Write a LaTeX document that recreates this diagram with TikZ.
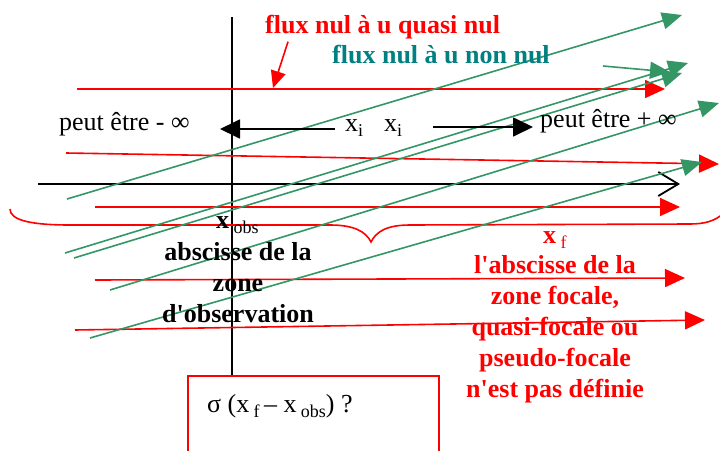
\documentclass[tikz,border=0pt]{standalone}
\usepackage{fontspec}
\setmainfont{Liberation Serif}
\usepackage{xcolor}
\usepackage{tikz}
\usetikzlibrary{arrows.meta}
\definecolor{vertrayon}{RGB}{51,150,100}
\definecolor{bleuvert}{RGB}{0,128,128}
\newcommand{\bas}[1]{\raisebox{-5pt}{\fontsize{18}{18}\selectfont #1}}

\begin{document}
\begin{tikzpicture}[x=1pt,y=-1pt,
	axe/.style={line width=1.8pt},
	rouge/.style={red,line width=1.6pt,-{Triangle[length=20pt,width=18pt]}},
	vert/.style={vertrayon,line width=1.6pt,-{Triangle[length=20pt,width=17pt]}},
	fleche/.style={line width=1.8pt,-{Triangle[length=20pt,width=19pt]}},
	txt/.style={inner sep=0pt,anchor=base west,font=\fontsize{26}{31}\selectfont},
	gras/.style={inner sep=0pt,anchor=north,align=center,font=\fontsize{26}{31}\selectfont\bfseries},
	]
	\useasboundingbox (0,0) rectangle (720,450);
	\clip (0,0) rectangle (720,450);
	
	% cadre du bas
	\node[draw=red,line width=1.5pt,minimum width=251pt,minimum height=95pt,
		anchor=north west,inner sep=0pt] (cadre) at (187,375) {};
	\node[txt] (sigma) at (207,412) {σ (x\,\bas{f}\,– x\,\bas{obs}) ?};
	
	% axes
	\coordinate (Ah) at (232,17);
	\coordinate (Ag) at (38,184);
	\coordinate (Ad) at (680,184);
	\draw[axe] (Ah)--(Ah |- cadre.north);
	\draw[axe,-{Straight Barb[length=20pt,width=24pt]}] (Ag)--(Ad);
	
	% accolade
	\draw[red,line width=1.6pt] (10,209) .. controls (10,220) and (30,225) .. (70,225)
	-- (330,225) .. controls (355,225) and (366,232) .. (371,242)
	.. controls (376,232) and (386,225) .. (410,225)
	-- (690,224) .. controls (705,224) and (715,221) .. (724,213);
	
	% rayons a flux quasi nul
	\foreach \n/\p/\q in {1/{77,89}/{665,89}, 2/{66,153}/{719,164}, 3/{95,207}/{680,207},
		4/{95,280}/{685,278}, 5/{75,330}/{705,320}}
	{
		\coordinate (r\n) at (\p);
		\coordinate (R\n) at (\q);
		\draw[rouge] (r\n)--(R\n);
	}
	
	% rayons a flux non nul
	\foreach \n/\p/\q in {1/{67,199}/{682,15}, 2/{603,66}/{670,72}, 3/{65,253}/{688,63},
		4/{74,258}/{682,73}, 5/{110,290}/{719,103}, 6/{90,338}/{702,162}}
	{
		\coordinate (v\n) at (\p);
		\coordinate (V\n) at (\q);
		\draw[vert] (v\n)--(V\n);
	}
	
	% titres
	\node[txt,font=\fontsize{26}{31}\selectfont\bfseries,red] (quasinul) at (265,33) {flux nul à u quasi nul};
	\node[txt,font=\fontsize{26}{31}\selectfont\bfseries,bleuvert] (nonnul) at (332,63) {flux nul à u non nul};
	\coordinate (P) at (273,88);
	\draw[red,line width=1.6pt,-{Triangle[length=17pt,width=15pt]}] (quasinul.south west)++(23,3) coordinate (p) -- (P);
	
	% xi et les infinis
	\node[txt] (moinsinf) at (59,130) {peut être - ∞};
	\node[txt] (plusinf) at (540,127) {peut être + ∞};
	\node[txt] (xi1) at (345,131) {x\bas{i}};
	\node[txt] (xi2) at (384,131) {x\bas{i}};
	\coordinate (g1) at (335,129);
	\coordinate (G1) at (220,129);
	\coordinate (d1) at (433,127);
	\coordinate (D1) at (533,127);
	\draw[fleche] (g1)--(G1);
	\draw[fleche] (d1)--(D1);
	
	% observation
	\node[txt] (xobs) at (216,228) {\textbf{x}\,\bas{obs}};
	\node[gras] (zobs) at (238,242) {abscisse de la\\zone\\d\textquotesingle observation};
	
	% focale
	\node[txt,red] (xf) at (543,243) {\textbf{x}\,\bas{f}};
	\node[gras,red] (zf) at (555,255) {l\textquotesingle abscisse de la\\zone focale,\\quasi-focale ou\\pseudo-focale\\n\textquotesingle est pas définie};
\end{tikzpicture}
\end{document}
